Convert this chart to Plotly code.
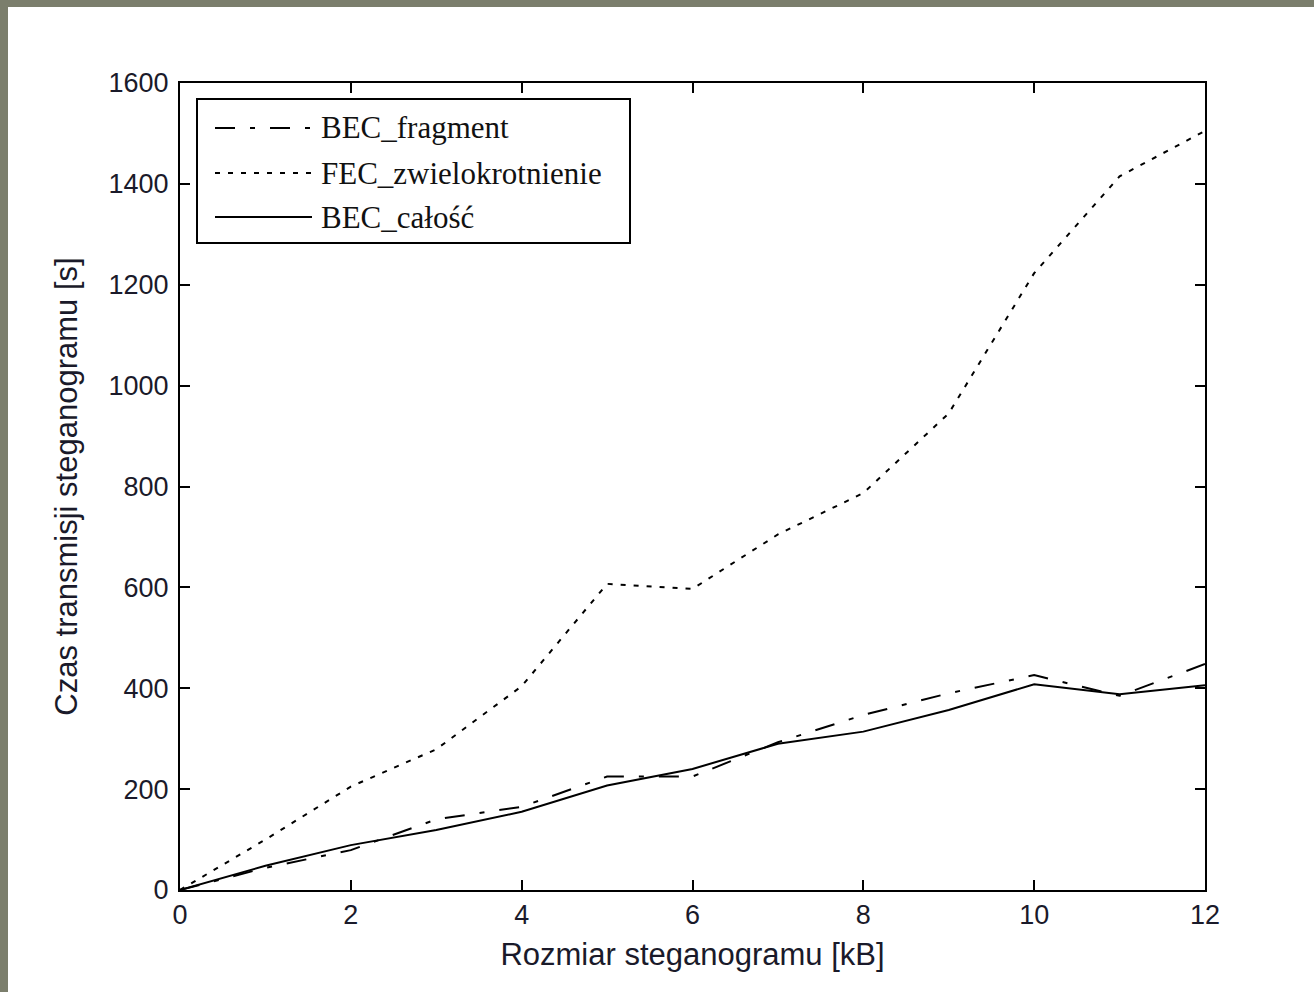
import plotly.graph_objects as go

# ---- data ----
rozmiar_kb = [0, 1, 2, 3, 4, 5, 6, 7, 8, 9, 10, 11, 12]
bec_fragment = [0, 44, 79, 140, 165, 225, 225, 293, 347, 390, 426, 385, 448]
fec_zwielokrotnienie = [0, 100, 205, 279, 404, 607, 597, 705, 787, 945, 1223, 1415, 1505]
bec_calosc = [0, 48, 89, 119, 155, 207, 240, 290, 314, 357, 408, 388, 406]

series_names = ["BEC_fragment", "FEC_zwielokrotnienie", "BEC_całość"]
series_values = [bec_fragment, fec_zwielokrotnienie, bec_calosc]
series_dash = ["20px,15px,5px,15px", "5px,8px", "solid"]

x_ticks = [0, 2, 4, 6, 8, 10, 12]
y_ticks = [0, 200, 400, 600, 800, 1000, 1200, 1400, 1600]

x_title = "Rozmiar steganogramu [kB]"
y_title = "Czas transmisji steganogramu [s]"

# ---- figure ----
W, H = 1314, 992
L, R, T, B = 180, 109, 83, 102
pw, ph = W - L - R, H - T - B


def px_x(p):
    return (p - L) / pw


def px_y(p):
    return (H - B - p) / ph


fig = go.Figure()
for name, vals, dash in zip(series_names, series_values, series_dash):
    fig.add_trace(go.Scatter(
        x=rozmiar_kb, y=vals, mode="lines", name=name,
        line=dict(color="black", width=2, dash=dash),
        showlegend=False,
    ))

shapes = []
# grey textured frame (left and top strips)
frame = "#7b7e6c"
shapes.append(dict(type="rect", xref="paper", yref="paper", layer="below",
                   x0=px_x(0), x1=px_x(8), y0=px_y(H), y1=px_y(0),
                   fillcolor=frame, line=dict(width=0)))
shapes.append(dict(type="rect", xref="paper", yref="paper", layer="below",
                   x0=px_x(0), x1=px_x(W), y0=px_y(7), y1=px_y(0),
                   fillcolor=frame, line=dict(width=0)))

# legend box (MATLAB-style, long line samples)
shapes.append(dict(type="rect", xref="paper", yref="paper",
                   x0=px_x(197), x1=px_x(630), y0=px_y(243), y1=px_y(99),
                   fillcolor="white", line=dict(color="black", width=2)))
rows = [128, 173, 217]
annotations = []
for name, dash, ry in zip(series_names, series_dash, rows):
    shapes.append(dict(type="line", xref="paper", yref="paper",
                       x0=px_x(215), x1=px_x(312), y0=px_y(ry), y1=px_y(ry),
                       line=dict(color="black", width=2, dash=dash)))
    annotations.append(dict(xref="paper", yref="paper", x=px_x(319), y=px_y(ry),
                            xanchor="left", yanchor="middle", showarrow=False,
                            text=name,
                            font=dict(family="Liberation Serif", size=31, color="#111")))

axis_common = dict(
    showgrid=False, zeroline=False, showline=True, linecolor="black", linewidth=2,
    mirror="allticks", ticks="inside", ticklen=10, tickwidth=2, tickcolor="black",
    tickfont=dict(family="Liberation Sans", size=27, color="#1a1a2a"),
)

fig.update_layout(
    width=W, height=H,
    margin=dict(l=L, r=R, t=T, b=B, pad=0),
    paper_bgcolor="white", plot_bgcolor="white",
    xaxis=dict(range=[0, 12], tickvals=x_ticks, **axis_common,
               title=dict(text=x_title, standoff=14,
                          font=dict(family="Liberation Sans", size=31, color="#1a1a2a"))),
    yaxis=dict(range=[0, 1600], tickvals=y_ticks, **axis_common,
               ticklabelstandoff=4,
               title=dict(text=y_title, standoff=22,
                          font=dict(family="Liberation Sans", size=31, color="#1a1a2a"))),
    shapes=shapes,
    annotations=annotations,
    showlegend=False,
)

fig.write_html("out.html")
